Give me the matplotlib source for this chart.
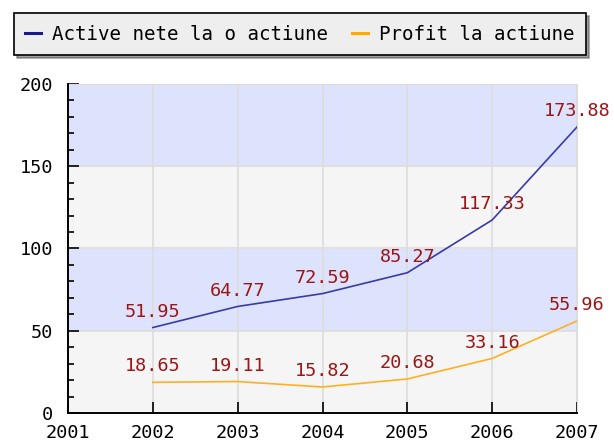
import matplotlib
matplotlib.use("Agg")
import matplotlib.pyplot as plt
from matplotlib.ticker import MultipleLocator

years = [2001, 2002, 2003, 2004, 2005, 2006, 2007]
data_years = [2002, 2003, 2004, 2005, 2006, 2007]
active = [51.95, 64.77, 72.59, 85.27, 117.33, 173.88]
profit = [18.65, 19.11, 15.82, 20.68, 33.16, 55.96]
series_names = ["Active nete la o actiune", "Profit la actiune"]

BLUE = "#3a3aa8"
ORANGE = "#ffb020"
LABEL_RED = "#9c1414"
FONT = "DejaVu Sans Mono"
FS = 13.3

plt.rcParams['font.family'] = FONT
plt.rcParams['xtick.direction'] = 'in'
plt.rcParams['ytick.direction'] = 'in'

fig = plt.figure(figsize=(6.14, 4.45), dpi=100)
ax = fig.add_axes([68 / 614, 32 / 445, 509 / 614, 329 / 445])

# alternating bands
for lo, hi, c in [(0, 50, "#f5f5f5"), (50, 100, "#dde3fd"),
                  (100, 150, "#f5f5f5"), (150, 200, "#dde3fd")]:
    ax.axhspan(lo, hi, color=c, zorder=0, lw=0)

ax.set_xlim(2001, 2007)
ax.set_ylim(0, 200)
ax.set_xticks(years)
ax.yaxis.set_major_locator(MultipleLocator(50))
ax.yaxis.set_minor_locator(MultipleLocator(10))
ax.grid(True, which='major', color="#dcdcdc", lw=1.2)
ax.set_axisbelow(True)

for sp in ("top", "right"):
    ax.spines[sp].set_color("#dcdcdc")
for sp in ("left", "bottom"):
    ax.spines[sp].set_color("black")
    ax.spines[sp].set_linewidth(1.4)
    ax.spines[sp].set_zorder(2.6)

ax.tick_params(axis='y', which='major', direction='in', length=8, width=1.2,
               labelsize=FS, color='black', pad=11, zorder=2.5)
ax.tick_params(axis='y', which='minor', direction='in', length=4.5, width=1.2,
               color='black')
ax.tick_params(axis='x', which='major', direction='in', length=8, width=1.2,
               labelsize=FS, color='black', pad=8)
ax.tick_params(axis='x', which='minor', length=0)

l1, = ax.plot(data_years, active, color=BLUE, lw=1.2, zorder=3)
l2, = ax.plot(data_years, profit, color=ORANGE, lw=1.2, zorder=3)

for xs, ys in ((data_years, active), (data_years, profit)):
    for x, y in zip(xs, ys):
        ax.annotate(f"{y:.2f}", (x, y), xytext=(0, 5), textcoords='offset points',
                    ha='center', va='bottom', color=LABEL_RED, fontsize=FS,
                    annotation_clip=False, zorder=4)

h1, = ax.plot([], [], color="#1a1a8c", lw=2.2)
h2, = ax.plot([], [], color="#ffaa00", lw=2.2)
leg = fig.legend([h1, h2], series_names, loc='center',
                 bbox_to_anchor=(300 / 614, 1 - 34 / 445), ncol=2,
                 fontsize=13.8, frameon=True, fancybox=False, shadow=True,
                 handlelength=0.8, handletextpad=0.6, columnspacing=1.25,
                 borderpad=0.6)
frame = leg.get_frame()
frame.set_facecolor("#eeeeee")
frame.set_edgecolor("black")
frame.set_linewidth(1.2)
frame.set_alpha(1)

fig.savefig("out.png", dpi=100)
